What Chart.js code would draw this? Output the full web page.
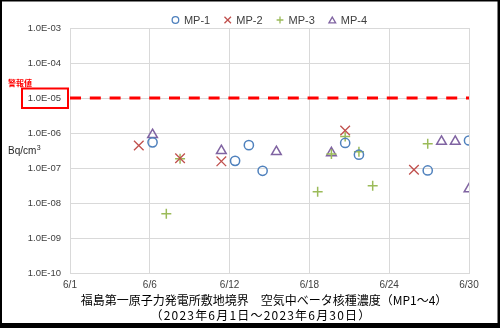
<!DOCTYPE html>
<html>
<head>
<meta charset="utf-8">
<script src="https://cdn.jsdelivr.net/npm/chart.js@4/dist/chart.umd.min.js"></script>
<style>
  html, body { margin: 0; padding: 0; background: #fff; }
  #wrap { width: 500px; height: 328px; }
</style>
</head>
<body>
<div id="wrap"><canvas id="c" width="500" height="328"></canvas></div>
<script>
// Sampling day (June 2023) and beta concentration (Bq/cm3) per monitoring post
const mp1Days   = [7, 13, 14, 15, 21, 22, 27, 30];
const mp1Values = [5.4e-7, 1.6e-7, 4.5e-7, 8.3e-8, 5.2e-7, 2.4e-7, 8.5e-8, 6.1e-7];

const mp2Days   = [6, 9, 12, 21, 26];
const mp2Values = [4.4e-7, 1.9e-7, 1.55e-7, 1.18e-6, 8.9e-8];

const mp3Days   = [8, 9, 19, 20, 21, 22, 23, 27];
const mp3Values = [4.9e-9, 1.85e-7, 2.1e-8, 2.5e-7, 8.0e-7, 2.9e-7, 3.1e-8, 4.9e-7];

const mp4Days   = [7, 12, 16, 20, 28, 29, 30];
const mp4Values = [8.9e-7, 3.1e-7, 2.9e-7, 2.7e-7, 5.7e-7, 5.7e-7, 2.5e-8];

// Alarm level
const alarmLevel = 1.0e-5;

// Axis ticks
const xTickValues = [1, 6.8, 12.6, 18.4, 24.2, 30];
const xTickLabels = ['6/1', '6/6', '6/12', '6/18', '6/24', '6/30'];
const yTickValues = [1e-10, 1e-9, 1e-8, 1e-7, 1e-6, 1e-5, 1e-4, 1e-3];
const yTickLabels = ['1.0E-10', '1.0E-09', '1.0E-08', '1.0E-07', '1.0E-06', '1.0E-05', '1.0E-04', '1.0E-03'];

const seriesNames = ['MP-1', 'MP-2', 'MP-3', 'MP-4'];

const toPoints = (days, vals) => days.map((d, i) => ({ x: d, y: vals[i] }));

const LATIN = '"Liberation Sans", Arial, sans-serif';
const CJK = '"Noto Sans CJK JP", "Noto Sans", sans-serif';

const markerStyles = [
  { pointStyle: 'circle',   radius: 4.6, color: '#4F81BD', width: 1.5, legendRadius: 3.3 },
  { pointStyle: 'crossRot', radius: 6.8, color: '#C0504D', width: 1.3, legendRadius: 4.6 },
  { pointStyle: 'cross',    radius: 5,   color: '#9BBB59', width: 1.5, legendRadius: 3.4 },
  { pointStyle: 'triangle', radius: 5.6, color: '#8064A2', width: 1.5, legendRadius: 3.9 }
];

const seriesData = [
  toPoints(mp1Days, mp1Values),
  toPoints(mp2Days, mp2Values),
  toPoints(mp3Days, mp3Values),
  toPoints(mp4Days, mp4Values)
];

const datasets = seriesData.map((pts, i) => ({
  type: 'scatter',
  label: seriesNames[i],
  data: pts,
  pointStyle: markerStyles[i].pointStyle,
  pointRadius: markerStyles[i].radius,
  pointHoverRadius: markerStyles[i].radius,
  pointBorderColor: markerStyles[i].color,
  pointBackgroundColor: 'rgba(0,0,0,0)',
  pointBorderWidth: markerStyles[i].width,
  showLine: false
}));

// Dashed alarm-level line across the whole period
datasets.push({
  type: 'line',
  label: 'alarm',
  data: [{ x: xTickValues[0], y: alarmLevel }, { x: xTickValues[xTickValues.length - 1], y: alarmLevel }],
  borderColor: '#FF0000',
  borderWidth: 3.2,
  borderDash: [11, 8.8],
  pointRadius: 0,
  fill: false
});

// Frame, legend, titles and annotations
const decorations = {
  id: 'decorations',
  beforeDraw(chart) {
    const ctx = chart.ctx;
    ctx.save();
    ctx.fillStyle = '#000';
    ctx.fillRect(0, 0, chart.width, chart.height);
    ctx.fillStyle = '#fff';
    ctx.fillRect(2, 1.5, 495.5, 321.5);
    ctx.restore();
  },
  afterDraw(chart) {
    const ctx = chart.ctx;
    const area = chart.chartArea;
    const cx = (area.left + area.right) / 2;
    ctx.save();

    // legend
    ctx.font = '11px ' + LATIN;
    ctx.textBaseline = 'middle';
    ctx.textAlign = 'left';
    const legendY = 20;
    const gap = 5, itemGap = 14;
    const widths = seriesNames.map(n => ctx.measureText(n).width);
    const markW = 7;
    let total = 0;
    widths.forEach((w, i) => { total += markW + gap + w + (i < widths.length - 1 ? itemGap : 0); });
    let x = cx - total / 2;
    seriesNames.forEach((name, i) => {
      const m = markerStyles[i];
      ctx.strokeStyle = m.color;
      ctx.fillStyle = 'rgba(0,0,0,0)';
      ctx.lineWidth = 1.3;
      Chart.helpers.drawPoint(ctx, {
        pointStyle: m.pointStyle,
        radius: m.legendRadius,
        rotation: 0,
        borderWidth: 1.3
      }, x + markW / 2, legendY + (m.pointStyle === 'triangle' ? 1 : 0));
      ctx.fillStyle = '#404040';
      ctx.fillText(name, x + markW + gap, legendY + 0.5);
      x += markW + gap + widths[i] + itemGap;
    });

    // alarm label and box around its tick label
    ctx.fillStyle = '#FF0000';
    ctx.font = 'bold 8px ' + CJK;
    ctx.textAlign = 'left';
    ctx.fillText('警報値', 8, 82.5);
    ctx.strokeStyle = '#FF0000';
    ctx.lineWidth = 2;
    ctx.strokeRect(22, 88.5, 46, 19.5);

    // unit
    ctx.fillStyle = '#262626';
    ctx.font = '10px ' + LATIN;
    ctx.fillText('Bq/cm', 8, 151);
    const uw = ctx.measureText('Bq/cm').width;
    ctx.font = '7px ' + LATIN;
    ctx.fillText('3', 8 + uw + 0.5, 148);

    // title
    ctx.fillStyle = '#000';
    ctx.textAlign = 'center';
    ctx.font = '12px ' + CJK;
    ctx.fillText('福島第一原子力発電所敷地境界　空気中ベータ核種濃度（MP1～4）', 264, 300.5);
    ctx.letterSpacing = '1.2px';
    ctx.fillText('（2023年6月1日～2023年6月30日）', 261, 315);
    ctx.restore();
  }
};

new Chart(document.getElementById('c'), {
  data: { datasets },
  options: {
    responsive: false,
    animation: false,
    devicePixelRatio: 1,
    layout: { padding: { top: 28, right: 31, bottom: 0, left: 0 } },
    plugins: {
      legend: { display: false },
      tooltip: { enabled: false },
      title: { display: false }
    },
    scales: {
      x: {
        type: 'linear',
        min: xTickValues[0],
        max: xTickValues[xTickValues.length - 1],
        afterBuildTicks(scale) { scale.ticks = xTickValues.map(v => ({ value: v })); },
        afterFit(scale) { scale.height = 55; },
        ticks: {
          autoSkip: false,
          maxRotation: 0,
          padding: 6,
          color: '#404040',
          font: { family: LATIN, size: 10 },
          callback: (v, i) => xTickLabels[i]
        },
        grid: { color: '#D9D9D9', lineWidth: 1, drawTicks: false },
        border: { color: '#D9D9D9' }
      },
      y: {
        type: 'logarithmic',
        min: yTickValues[0],
        max: yTickValues[yTickValues.length - 1],
        afterBuildTicks(scale) { scale.ticks = yTickValues.map(v => ({ value: v, major: true })); },
        afterFit(scale) { scale.width = 70; },
        ticks: {
          autoSkip: false,
          padding: 9,
          color: '#404040',
          font: { family: LATIN, size: 9.5 },
          callback: (v, i) => yTickLabels[i]
        },
        grid: { color: '#D9D9D9', lineWidth: 1, drawTicks: false },
        border: { color: '#D9D9D9' }
      }
    }
  },
  plugins: [decorations]
});
</script>
</body>
</html>
